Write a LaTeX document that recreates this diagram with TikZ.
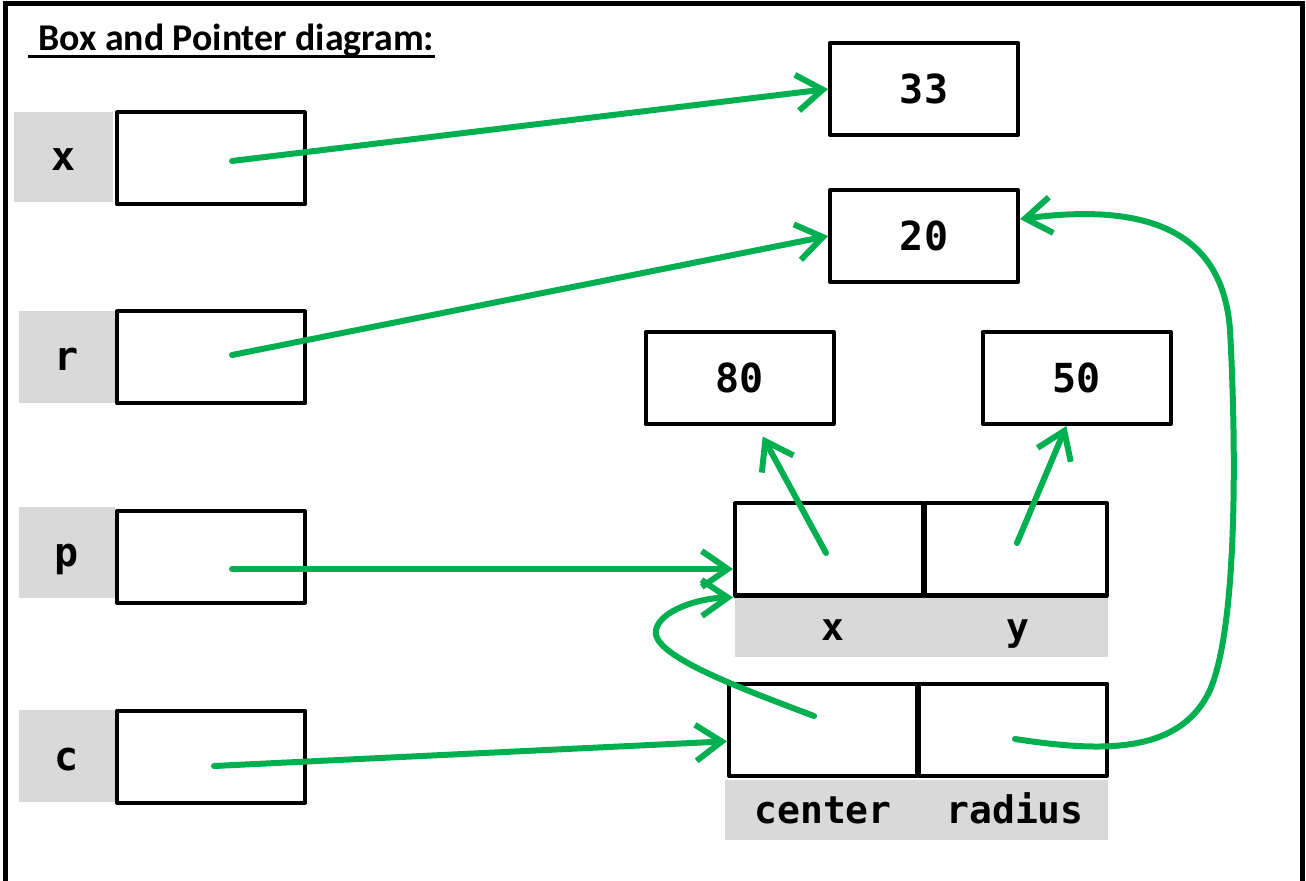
\documentclass[tikz,border=0pt]{standalone}
\usepackage{fontspec}
\setmainfont{Carlito}
\newfontfamily\codefont{DejaVu Sans Mono}
\usetikzlibrary{arrows.meta}

\definecolor{tagbg}{HTML}{D9D9D9}
\definecolor{ptrgreen}{HTML}{00B050}

\tikzset{
  cell/.style={draw, line width=2pt, line join=round, inner sep=0pt,
    minimum width=94pt, minimum height=46pt,
    font=\codefont\bfseries\fontsize{20}{20}\selectfont},
  tag/.style={fill=tagbg, inner sep=0pt, text height=14pt, text depth=0pt,
    font=\codefont\bfseries\fontsize{20}{20}\selectfont},
  field/.style={inner sep=0pt, text height=13pt, text depth=0pt,
    font=\codefont\bfseries\fontsize{19}{19}\selectfont},
  ptr/.style={ptrgreen, line width=3pt, line cap=round, line join=round,
    -{Straight Barb[length=13pt,width=18pt]}},
}

\begin{document}
\begin{tikzpicture}[x=0.5pt,y=-0.5pt]
   \useasboundingbox (0,0) rectangle (1306,881);
   % frame
   \draw[line width=2.5pt] (5,881) -- (5,4) -- (1302,4) -- (1302,881);
   \node[anchor=base west,inner sep=0pt,font=\bfseries\fontsize{18.9}{19}\selectfont]
      (title) at (38,51) {Box and Pointer diagram:};
   \draw[line width=1.5pt] (28,57) -- (title.base east |- 0,57);

   % variables
   \node[tag,minimum width=49.5pt,minimum height=45pt] (xtag) at (63.5,157) {x};
   \node[tag,minimum width=48pt,minimum height=46pt] (rtag) at (67,357) {r};
   \node[tag,minimum width=48pt,minimum height=45.5pt] (ptag) at (67,552.5) {p};
   \node[tag,minimum width=48pt,minimum height=46pt] (ctag) at (67,756) {c};
   \node[cell] (xbox) at (211,158.5) {};
   \node[cell] (rbox) at (211,357.5) {};
   \node[cell] (pbox) at (211,557) {};
   \node[cell] (cbox) at (211,756.5) {};

   % values
   \node[cell] (v33) at (924,89) {33};
   \node[cell] (v20) at (924,236) {20};
   \node[cell] (v80) at (739.5,378) {80};
   \node[cell] (v50) at (1076.5,378) {50};

   % point object
   \node[tag,minimum width=186.5pt,minimum height=29.5pt] (ptband) at (921.5,627.5) {};
   \node[field] at (833,627.5) {x};
   \node[field] at (1018,627.5) {y};
   \node[cell] (ptx) at (829,549.5) {};
   \node[cell,minimum width=91pt] (pty) at (1016,549.5) {};

   % circle object
   \node[tag,minimum width=191.5pt,minimum height=30pt] (cband) at (916.5,810) {};
   \node[field] at (823,810) {center};
   \node[field] at (1015,810) {radius};
   \node[cell] (cen) at (823,729.5) {};
   \node[cell] (rad) at (1013,729.5) {};

   % pointers
   \coordinate (xs) at (232,161);
   \coordinate (rs) at (232,355);
   \coordinate (ps) at (232,569);
   \coordinate (cs) at (214,766);
   \coordinate (pxs) at (826,553);
   \coordinate (pys) at (1017,543);
   \coordinate (cens) at (814,716);
   \coordinate (rads) at (1015,739);
   \draw[ptr] (xs) -- (v33.west);
   \draw[ptr] (rs) -- (v20.west);
   \draw[ptr] (ps) -- (ptx.west |- ps);
   \draw[ptr] (cs) -- (cen.187);
   \draw[ptr,shorten >=6pt] (pxs) -- (v80.-70);
   \draw[ptr] (pys) -- (v50.-102);
   \draw[ptr] (cens) .. controls (740,688) and (650,655) .. (656,630)
      .. controls (660,610) and (700,598) .. (ptx.south west);
   \draw[ptr] (rads) .. controls (1100,752) and (1180,755) .. (1210,690)
      .. controls (1240,620) and (1235,420) .. (1230,330)
      .. controls (1222,220) and (1130,205) .. (v20.10);
\end{tikzpicture}
\end{document}
